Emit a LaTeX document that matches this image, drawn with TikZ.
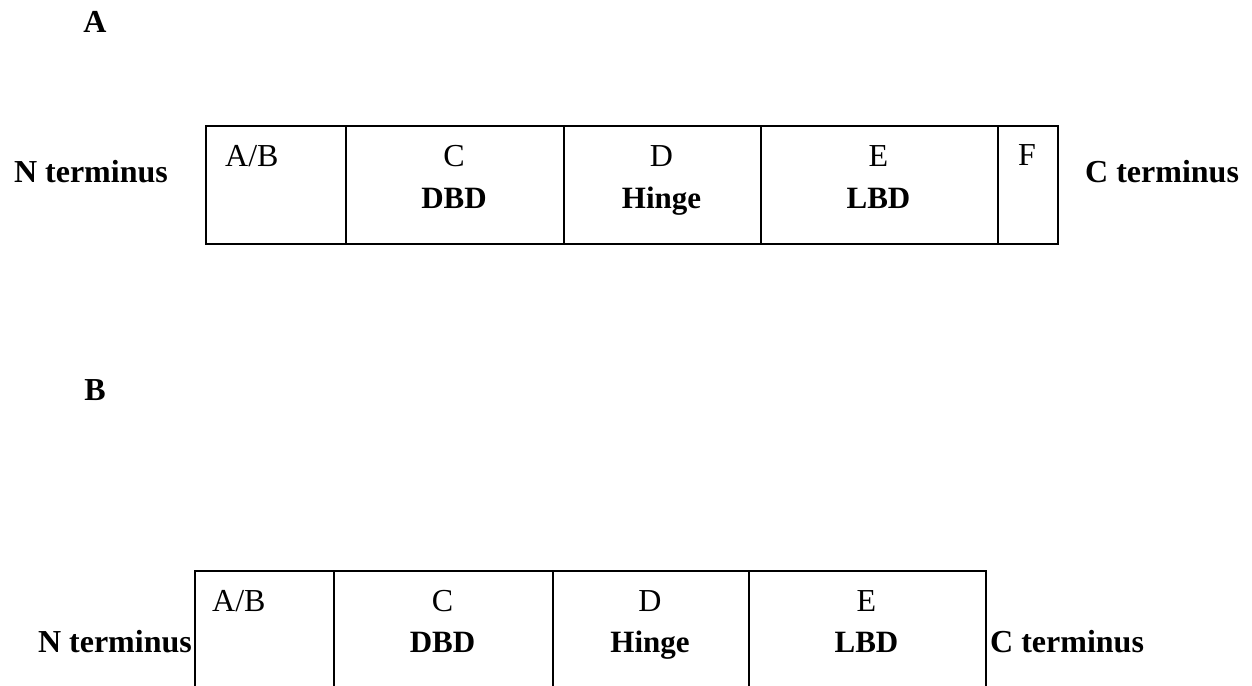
\documentclass[tikz,border=0pt]{standalone}
\usepackage{fontspec}
\setmainfont{Liberation Serif}
\tikzset{
  cell/.style={draw=black, line width=1.6pt, minimum height=#1, inner sep=0pt, anchor=north west},
  lab/.style={font=\fontsize{32}{36}\selectfont, inner sep=0pt, anchor=base},
  blab/.style={font=\fontsize{31}{36}\selectfont\bfseries, inner sep=0pt, anchor=base},
  term/.style={font=\fontsize{32}{36}\selectfont\bfseries, inner sep=0pt},
  panel/.style={font=\fontsize{32}{36}\selectfont\bfseries, inner sep=0pt, anchor=base},
}
\begin{document}
\begin{tikzpicture}[x=1pt,y=-1pt]
\useasboundingbox (0,0) rectangle (1252,685);
\clip (0,0) rectangle (1252,685);
\fill[white] (0,0) rectangle (1252,685);
% Panel labels
\node[panel] (pA) at (95,33) {A};
\node[panel] (pB) at (95,400) {B};
% Row A
\node[cell=118pt, minimum width=140pt] (a1) at (205,125) {};
\node[cell=118pt, minimum width=218pt] (a2) at (345,125) {};
\node[cell=118pt, minimum width=197pt] (a3) at (563,125) {};
\node[cell=118pt, minimum width=237pt] (a4) at (760,125) {};
\node[cell=118pt, minimum width=60pt]  (a5) at (997,125) {};
\node[lab, anchor=base west] (a1t) at (225,166) {A/B};
\node[lab] (a2t) at (454,166) {C};
\node[blab] (a2b) at (454,208) {DBD};
\node[lab] (a3t) at (661.5,166) {D};
\node[blab] (a3b) at (661.5,208) {Hinge};
\node[lab] (a4t) at (878.5,166) {E};
\node[blab] (a4b) at (878.5,208) {LBD};
\node[lab] (a5t) at (1027,165) {F};
\node[term, anchor=base east] (aN) at (168,182) {N terminus};
\node[term, anchor=base west] (aC) at (1085,182) {C terminus};
% Row B
\node[cell=160pt, minimum width=139pt] (b1) at (194,570) {};
\node[cell=160pt, minimum width=219pt] (b2) at (333,570) {};
\node[cell=160pt, minimum width=196pt] (b3) at (552,570) {};
\node[cell=160pt, minimum width=237pt] (b4) at (748,570) {};
\node[lab, anchor=base west] (b1t) at (212,611) {A/B};
\node[lab] (b2t) at (442.5,611) {C};
\node[blab] (b2b) at (442.5,652) {DBD};
\node[lab] (b3t) at (650,611) {D};
\node[blab] (b3b) at (650,652) {Hinge};
\node[lab] (b4t) at (866.5,611) {E};
\node[blab] (b4b) at (866.5,652) {LBD};
\node[term, anchor=base east] (bN) at (192,652) {N terminus};
\node[term, anchor=base west] (bC) at (990,652) {C terminus};
\end{tikzpicture}
\end{document}
